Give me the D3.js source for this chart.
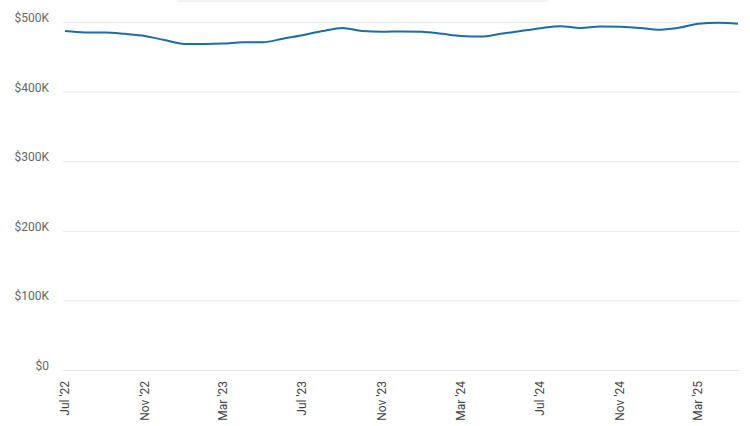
<!DOCTYPE html>
<html lang="en">
<head>
    <meta charset="UTF-8">
    <title>Median Price</title>
    <script src="https://d3js.org/d3.v7.min.js"></script>
    <style>
        body { margin: 0; background: #fff; font-family: Roboto, Arial, sans-serif; }
        .grid line { stroke: #e8e8e8; stroke-width: 1; }
        .y-label { font-size: 12px; fill: #666; }
        .x-label { font-size: 12px; fill: #444; }
        .series { fill: none; stroke: #1b6ca8; stroke-width: 2; }
    </style>
</head>
<body>
    <svg id="chart" width="750" height="426"></svg>
    <script>
        // Monthly values, Jul 2022 .. May 2025 (thousands of $)
        const months = [
            "2022-07", "2022-08", "2022-09", "2022-10", "2022-11", "2022-12",
            "2023-01", "2023-02", "2023-03", "2023-04", "2023-05", "2023-06",
            "2023-07", "2023-08", "2023-09", "2023-10", "2023-11", "2023-12",
            "2024-01", "2024-02", "2024-03", "2024-04", "2024-05", "2024-06",
            "2024-07", "2024-08", "2024-09", "2024-10", "2024-11", "2024-12",
            "2025-01", "2025-02", "2025-03", "2025-04", "2025-05"
        ];
        const values = [
            487, 485, 485, 483, 480, 474,
            468.5, 468.5, 469, 471, 471, 476,
            481, 487, 491.5, 487, 486, 486.5,
            486, 483, 480, 479, 483, 487,
            491, 494, 491.5, 493.5, 493, 491.5,
            489, 492, 497.5, 499, 497.5
        ];
        const xTickMonths = ["2022-07", "2022-11", "2023-03", "2023-07", "2023-11", "2024-03", "2024-07", "2024-11", "2025-03"];
        const yTicks = [0, 100, 200, 300, 400, 500];

        const parse = d3.timeParse("%Y-%m");
        const data = months.map((m, i) => ({ date: parse(m), value: values[i] }));

        const svg = d3.select("#chart");
        const plotLeft = 65, plotRight = 738, plotTop = 22, plotBottom = 370;

        // faint strip left over at the top edge
        svg.append("rect")
            .attr("x", 177).attr("y", 0)
            .attr("width", 371).attr("height", 2)
            .attr("fill", "#f3f3f3");

        const x = d3.scaleTime()
            .domain(d3.extent(data, d => d.date))
            .range([plotLeft, plotRight]);

        const y = d3.scaleLinear()
            .domain([0, 500])
            .range([plotBottom, plotTop]);

        // gridlines + y labels
        const grid = svg.append("g").attr("class", "grid");
        grid.selectAll("line")
            .data(yTicks)
            .enter()
            .append("line")
            .attr("x1", plotLeft - 2)
            .attr("x2", plotRight + 2)
            .attr("y1", d => y(d) + 0.5)
            .attr("y2", d => y(d) + 0.5);

        svg.selectAll(".y-label")
            .data(yTicks)
            .enter()
            .append("text")
            .attr("class", "y-label")
            .attr("x", 49)
            .attr("y", d => y(d))
            .attr("text-anchor", "end")
            .text(d => d === 0 ? "$0" : "$" + d + "K");

        // x labels, rotated
        const fmt = d3.timeFormat("%b '%y");
        svg.selectAll(".x-label")
            .data(xTickMonths.map(parse))
            .enter()
            .append("text")
            .attr("class", "x-label")
            .attr("transform", d => `translate(${x(d) + 4},381) rotate(-90)`)
            .attr("text-anchor", "end")
            .text(d => fmt(d));

        // the line
        const line = d3.line()
            .x(d => x(d.date))
            .y(d => y(d.value))
            .curve(d3.curveMonotoneX);

        svg.append("path")
            .datum(data)
            .attr("class", "series")
            .attr("d", line);
    </script>
</body>
</html>
